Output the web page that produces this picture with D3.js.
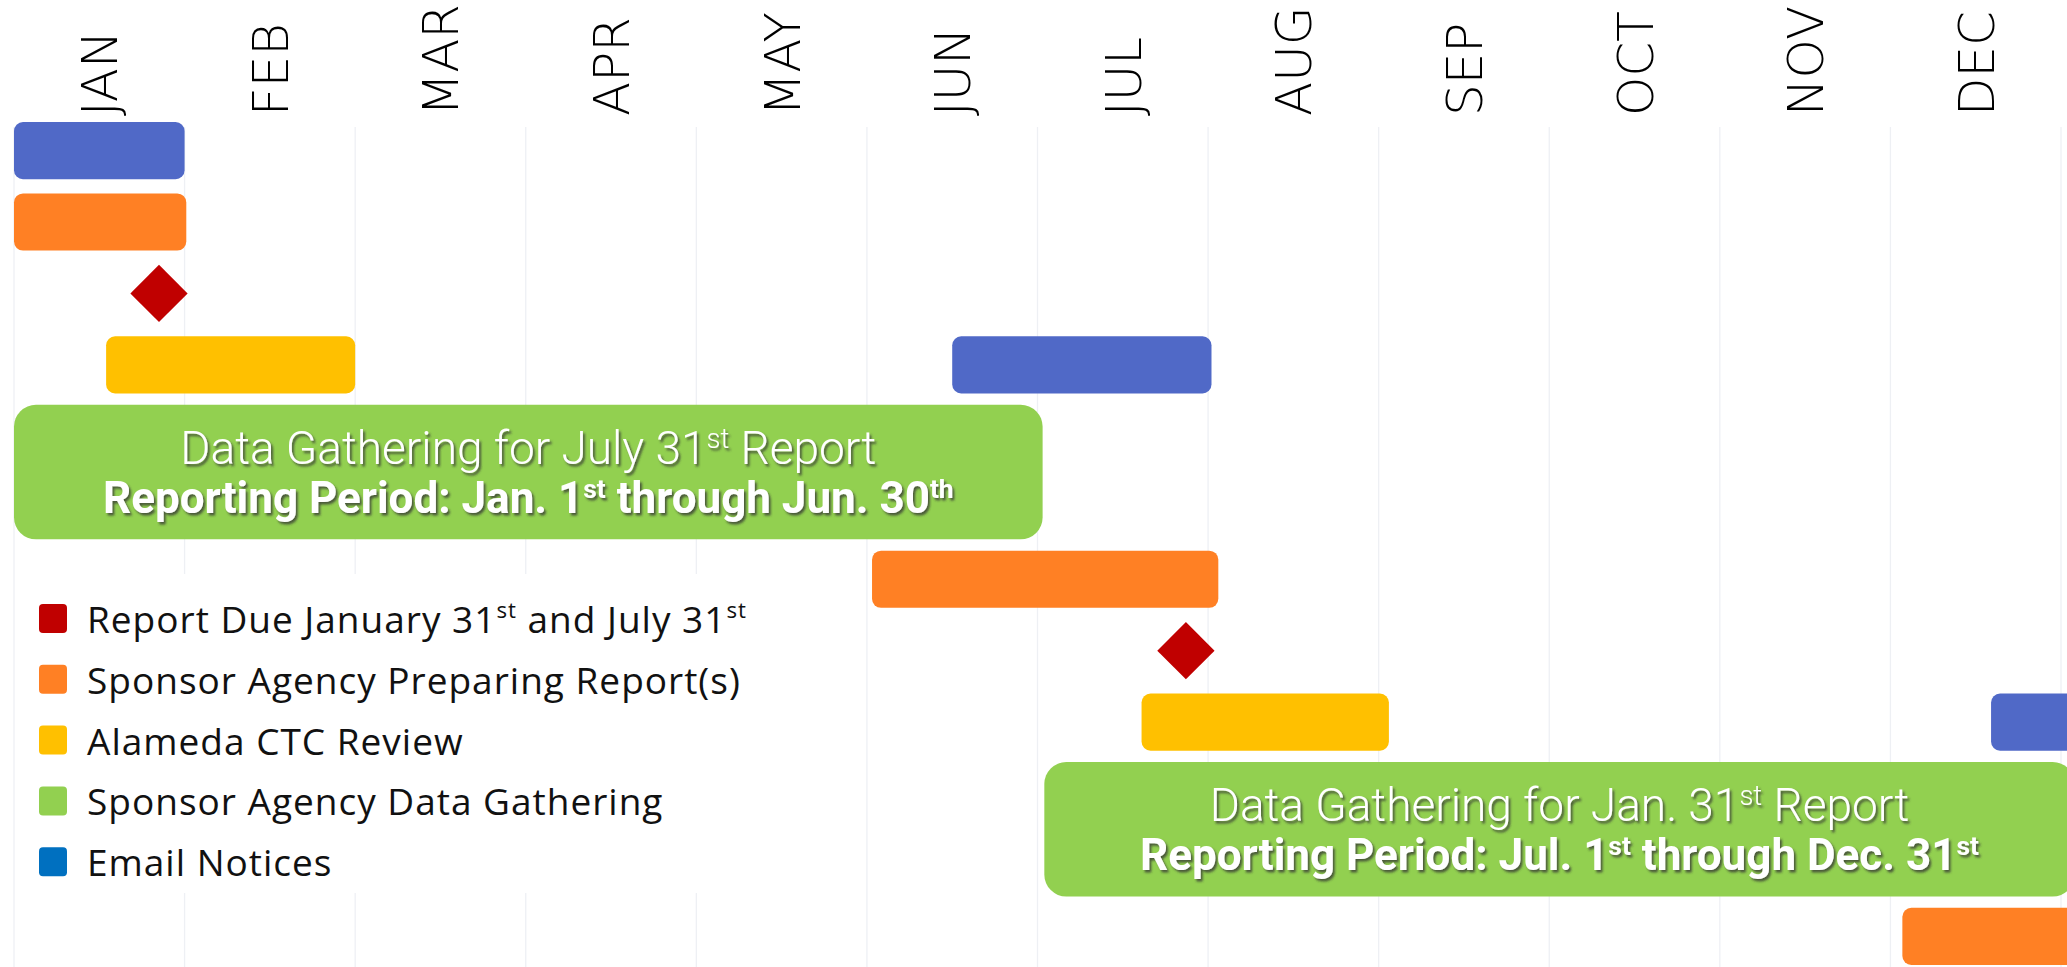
<!DOCTYPE html>
<html>
<head>
<meta charset="utf-8">
<script src="https://cdn.jsdelivr.net/npm/d3@7"></script>
<style>
  body { margin: 0; background: #fff; overflow: hidden; }
</style>
</head>
<body>
<div id="chart"></div>
<script>
// months along the top
var months = ["JAN", "FEB", "MAR", "APR", "MAY", "JUN", "JUL", "AUG", "SEP", "OCT", "NOV", "DEC"];

// legend
var legendKeys = ["due", "prep", "review", "gather", "email"];
var legendLabels = [
  "Report Due January 31{st} and July 31{st}",
  "Sponsor Agency Preparing Report(s)",
  "Alameda CTC Review",
  "Sponsor Agency Data Gathering",
  "Email Notices"
];

// bars: lane (row) and start / end in months from Jan 1
var barType  = ["email", "prep", "review", "email", "gather", "prep", "review", "email", "gather", "prep"];
var barLane  = [0, 1, 3, 3, 4, 6, 8, 8, 9, 11];
var barStart = [0, 0, 0.54, 5.5, 0, 5.03, 6.61, 11.59, 6.04, 11.07];
var barEnd   = [1, 1.01, 2, 7.02, 6.03, 7.06, 8.06, 12.2, 12.08, 12.2];

// report due markers
var dueLane  = [2, 7];
var dueMonth = [0.85, 6.87];

// text inside the green bars
var gatherTitle  = ["Data Gathering for July 31{st} Report", "Data Gathering for Jan. 31{st} Report"];
var gatherPeriod = ["Reporting Period: Jan. 1{st} through Jun. 30{th}", "Reporting Period: Jul. 1{st} through Dec. 31{st}"];

var width = 2067, height = 967;

var colors = {
  due: "#C00000",
  prep: "#FF8024",
  review: "#FFC000",
  gather: "#92D050",
  email: "#5069C7"
};
var legendColors = {due: "#C00000", prep: "#FF8024", review: "#FFC000", gather: "#92D050", email: "#0070C0"};

var x = d3.scaleLinear().domain([0, 12]).range([14, 2061]);
var y = d3.scaleBand().domain(d3.range(12)).range([122, 965]).paddingInner(0.2);

var svg = d3.select("#chart").append("svg")
    .attr("width", width)
    .attr("height", height);

var defs = svg.append("defs");
defs.append("filter")
    .attr("id", "shadow")
    .attr("x", "-5%").attr("y", "-20%").attr("width", "110%").attr("height", "140%")
  .append("feDropShadow")
    .attr("dx", 2).attr("dy", 2.5)
    .attr("stdDeviation", 1.2)
    .attr("flood-color", "#333")
    .attr("flood-opacity", 0.75);

// writes "31{st}" as 31 + superscript st
function richText(sel, str) {
  str.split(/(\{[^}]+\})/).forEach(function(part) {
    if (!part) return;
    if (part[0] === "{") {
      sel.append("tspan")
          .attr("baseline-shift", "super")
          .attr("font-size", "60%")
          .text(part.slice(1, -1));
    } else {
      sel.append("tspan").text(part);
    }
  });
}

// month gridlines
svg.append("g")
  .selectAll("line")
  .data(d3.range(13))
  .enter().append("line")
    .attr("x1", d => x(d)).attr("x2", d => x(d))
    .attr("y1", 127).attr("y2", height)
    .attr("stroke", "#EEF0F4")
    .attr("stroke-width", 1.3);

// month labels
svg.append("g")
  .selectAll("text")
  .data(months)
  .enter().append("text")
    .attr("transform", (d, i) => "translate(" + x(i + 0.5) + ",116) rotate(-90)")
    .attr("dy", "0.36em")
    .attr("text-anchor", "start")
    .attr("font-family", "'DejaVu Sans', sans-serif")
    .attr("font-weight", 200)
    .attr("font-size", 50)
    .attr("fill", "#000")
    .text(d => d);

// legend (sits on a white card over the gridlines)
var legend = svg.append("g");
legend.append("rect")
    .attr("x", 21).attr("y", 574)
    .attr("width", 840).attr("height", 319)
    .attr("fill", "#fff");

var item = legend.selectAll("g.item")
  .data(legendKeys)
  .enter().append("g")
    .attr("class", "item")
    .attr("transform", (d, i) => "translate(39," + (604 + i * 60.8) + ")");

item.append("rect")
    .attr("width", 28).attr("height", 29)
    .attr("rx", 4)
    .attr("fill", d => legendColors[d]);

item.append("text")
    .attr("x", 48).attr("y", 29)
    .attr("font-family", "'Open Sans', sans-serif")
    .attr("font-size", 37)
    .attr("letter-spacing", 1)
    .attr("fill", "#111")
    .each(function(d, i) { richText(d3.select(this), legendLabels[i]); });

// bars
var tasks = barType.map((t, i) => ({type: t, lane: barLane[i], start: barStart[i], end: barEnd[i]}));

svg.append("g")
  .selectAll("rect")
  .data(tasks)
  .enter().append("rect")
    .attr("x", d => x(d.start))
    .attr("width", d => x(d.end) - x(d.start))
    .attr("y", d => d.type === "gather" ? y(d.lane) - 3 : y(d.lane))
    .attr("height", d => d.type === "gather" ? y(d.lane + 1) + y.bandwidth() - y(d.lane) + 6 : y.bandwidth())
    .attr("rx", d => d.type === "gather" ? 22 : 9)
    .attr("fill", d => colors[d.type]);

// report due diamonds
var diamond = d3.symbol().type(d3.symbolSquare).size(1640);
svg.append("g")
  .selectAll("path")
  .data(dueLane)
  .enter().append("path")
    .attr("transform", (d, i) => "translate(" + x(dueMonth[i]) + "," + (y(d) + y.bandwidth() / 2) + ") rotate(45)")
    .attr("d", diamond)
    .attr("fill", colors.due);

// labels in the green bars
var gather = tasks.filter(d => d.type === "gather");
var glab = svg.append("g")
  .selectAll("g")
  .data(gather)
  .enter().append("g")
    .attr("transform", d => "translate(" + (x(d.start) + x(d.end)) / 2 + "," + (y(d.lane) + (y(d.lane + 1) + y.bandwidth() - y(d.lane)) / 2) + ")")
    .attr("filter", "url(#shadow)")
    .attr("fill", "#fff")
    .attr("text-anchor", "middle")
    .attr("font-family", "Roboto, sans-serif");

glab.append("text")
    .attr("y", -8)
    .attr("font-size", 46)
    .attr("font-weight", 300)
    .each(function(d, i) { richText(d3.select(this), gatherTitle[i]); });

glab.append("text")
    .attr("y", 41)
    .attr("font-size", 44)
    .attr("font-weight", 700)
    .each(function(d, i) { richText(d3.select(this), gatherPeriod[i]); });
</script>
</body>
</html>
